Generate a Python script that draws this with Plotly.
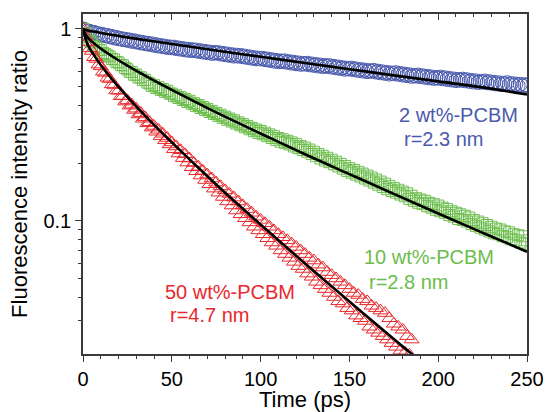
import plotly.graph_objects as go

# ---- data ----
STEP = 1.25
blue = [
    1.000, 0.990, 0.975, 0.972, 0.958, 0.960, 0.946, 0.944, 0.930, 0.935,
    0.922, 0.925, 0.910, 0.914, 0.898, 0.904, 0.889, 0.892, 0.880, 0.884,
    0.872, 0.876, 0.862, 0.868, 0.855, 0.858, 0.846, 0.850, 0.838, 0.842,
    0.830, 0.836, 0.822, 0.828, 0.815, 0.820, 0.808, 0.813, 0.800, 0.806,
    0.798, 0.804, 0.790, 0.796, 0.784, 0.790, 0.778, 0.784, 0.772, 0.780,
    0.772, 0.776, 0.764, 0.770, 0.758, 0.764, 0.752, 0.758, 0.746, 0.754,
    0.748, 0.752, 0.740, 0.746, 0.734, 0.740, 0.728, 0.734, 0.722, 0.730,
    0.722, 0.728, 0.716, 0.721, 0.710, 0.715, 0.704, 0.709, 0.698, 0.704,
    0.698, 0.703, 0.692, 0.697, 0.686, 0.691, 0.680, 0.686, 0.675, 0.681,
    0.676, 0.681, 0.670, 0.675, 0.664, 0.670, 0.659, 0.665, 0.654, 0.661,
    0.656, 0.662, 0.650, 0.657, 0.646, 0.652, 0.641, 0.648, 0.637, 0.644,
    0.638, 0.644, 0.632, 0.638, 0.627, 0.633, 0.622, 0.628, 0.617, 0.624,
    0.618, 0.625, 0.613, 0.619, 0.608, 0.614, 0.603, 0.610, 0.599, 0.606,
    0.601, 0.608, 0.596, 0.602, 0.591, 0.597, 0.587, 0.593, 0.582, 0.589,
    0.584, 0.591, 0.580, 0.586, 0.575, 0.581, 0.571, 0.577, 0.566, 0.573,
    0.568, 0.575, 0.564, 0.570, 0.560, 0.566, 0.556, 0.562, 0.552, 0.558,
    0.554, 0.561, 0.550, 0.556, 0.546, 0.552, 0.542, 0.548, 0.538, 0.545,
    0.540, 0.547, 0.537, 0.543, 0.533, 0.539, 0.529, 0.536, 0.526, 0.533,
    0.528, 0.535, 0.524, 0.531, 0.521, 0.527, 0.517, 0.524, 0.514, 0.521,
    0.516, 0.524, 0.512, 0.519, 0.509, 0.516, 0.506, 0.514, 0.504, 0.512,
    0.508,
]
green = [
    1.000, 0.948, 0.910, 0.866, 0.850, 0.814, 0.800, 0.778, 0.776, 0.750,
    0.742, 0.728, 0.718, 0.698, 0.694, 0.673, 0.668, 0.648, 0.646, 0.626,
    0.616, 0.598, 0.596, 0.577, 0.578, 0.558, 0.560, 0.541, 0.543, 0.525,
    0.520, 0.505, 0.509, 0.492, 0.497, 0.481, 0.486, 0.470, 0.476, 0.460,
    0.460, 0.446, 0.451, 0.436, 0.441, 0.426, 0.431, 0.416, 0.422, 0.407,
    0.410, 0.396, 0.401, 0.387, 0.392, 0.378, 0.383, 0.369, 0.374, 0.360,
    0.365, 0.352, 0.357, 0.344, 0.349, 0.336, 0.341, 0.329, 0.334, 0.321,
    0.326, 0.314, 0.319, 0.307, 0.312, 0.300, 0.305, 0.293, 0.299, 0.287,
    0.294, 0.282, 0.288, 0.276, 0.282, 0.270, 0.276, 0.264, 0.270, 0.258,
    0.266, 0.255, 0.261, 0.250, 0.256, 0.244, 0.251, 0.239, 0.245, 0.234,
    0.241, 0.229, 0.235, 0.223, 0.229, 0.217, 0.223, 0.211, 0.218, 0.206,
    0.213, 0.202, 0.208, 0.197, 0.203, 0.192, 0.198, 0.187, 0.193, 0.182,
    0.188, 0.178, 0.184, 0.174, 0.180, 0.170, 0.176, 0.166, 0.172, 0.162,
    0.168, 0.158, 0.164, 0.154, 0.160, 0.150, 0.156, 0.146, 0.152, 0.143,
    0.148, 0.140, 0.145, 0.137, 0.142, 0.134, 0.139, 0.130, 0.135, 0.127,
    0.131, 0.124, 0.129, 0.122, 0.127, 0.119, 0.124, 0.117, 0.122, 0.114,
    0.120, 0.112, 0.117, 0.110, 0.115, 0.107, 0.112, 0.105, 0.110, 0.102,
    0.108, 0.101, 0.106, 0.099, 0.104, 0.096, 0.101, 0.094, 0.099, 0.092,
    0.097, 0.090, 0.095, 0.088, 0.093, 0.086, 0.091, 0.085, 0.090, 0.083,
    0.088, 0.082, 0.087, 0.080, 0.085, 0.079, 0.084, 0.077, 0.083, 0.076,
    0.079,
]
red = [
    1.000, 0.912, 0.856, 0.792, 0.768, 0.712, 0.698, 0.652, 0.638, 0.598,
    0.590, 0.556, 0.548, 0.514, 0.510, 0.478, 0.476, 0.446, 0.447, 0.418,
    0.424, 0.398, 0.403, 0.378, 0.384, 0.358, 0.364, 0.340, 0.346, 0.322,
    0.326, 0.306, 0.312, 0.291, 0.298, 0.276, 0.284, 0.263, 0.270, 0.250,
    0.256, 0.236, 0.244, 0.224, 0.233, 0.212, 0.222, 0.201, 0.211, 0.190,
    0.200, 0.181, 0.191, 0.172, 0.182, 0.163, 0.174, 0.155, 0.166, 0.147,
    0.158, 0.140, 0.151, 0.133, 0.144, 0.126, 0.138, 0.120, 0.132, 0.113,
    0.126, 0.108, 0.120, 0.103, 0.115, 0.098, 0.110, 0.093, 0.105, 0.089,
    0.101, 0.085, 0.097, 0.081, 0.093, 0.077, 0.089, 0.074, 0.085, 0.070,
    0.082, 0.067, 0.079, 0.064, 0.076, 0.061, 0.073, 0.058, 0.070, 0.056,
    0.067, 0.053, 0.064, 0.051, 0.062, 0.048, 0.059, 0.046, 0.057, 0.044,
    0.054, 0.042, 0.052, 0.040, 0.050, 0.038, 0.048, 0.037, 0.046, 0.035,
    0.044, 0.034, 0.042, 0.032, 0.041, 0.031, 0.039, 0.030, 0.038, 0.028,
    0.036, 0.027, 0.035, 0.026, 0.034, 0.025, 0.033, 0.024, 0.031, 0.023,
    0.029, 0.022, 0.028, 0.021, 0.027, 0.0205, 0.025, 0.020, 0.024,
]
t_blue = [i * STEP for i in range(len(blue))]
t_green = [i * STEP for i in range(len(green))]
t_red = [i * STEP for i in range(len(red))]

fit_t = [0, 2.5, 5, 10, 17.5, 25, 37.5, 50, 75, 100, 125, 150, 175, 200, 225, 250]
fit_blue = [1.0, 0.983, 0.972, 0.953, 0.928, 0.904, 0.868, 0.834, 0.772, 0.716,
            0.664, 0.617, 0.573, 0.533, 0.496, 0.455]
fit_green = [1.0, 0.906, 0.86, 0.79, 0.710, 0.644, 0.554, 0.481, 0.367, 0.285,
             0.222, 0.175, 0.138, 0.109, 0.0866, 0.0689]
fit_red_t = [0, 2.5, 5, 10, 17.5, 25, 37.5, 50, 75, 100, 125, 150, 175, 190]
fit_red = [1.0, 0.835, 0.759, 0.649, 0.531, 0.443, 0.334, 0.256, 0.1545, 0.0955,
           0.0598, 0.0379, 0.0242, 0.0185]

labels = [
    ("2 wt%-PCBM", "r=2.3 nm"),
    ("10 wt%-PCBM", "r=2.8 nm"),
    ("50 wt%-PCBM", "r=4.7 nm"),
]
x_ticks = [0, 50, 100, 150, 200, 250]
y_ticks = [0.1, 1]
y_ticktext = ["0.1", "1"]
y_minor = [0.03, 0.04, 0.05, 0.06, 0.07, 0.08, 0.09,
           0.2, 0.3, 0.4, 0.5, 0.6, 0.7, 0.8, 0.9]

# ---- styling ----
BLUE = "#4a5aad"
GREEN = "#6cbd4c"
RED = "#e8282c"
FONT = "Liberation Sans, Arial, sans-serif"
AX = "#3a3a3a"

fig = go.Figure()
fig.add_trace(go.Scatter(x=t_blue, y=blue, mode="markers",
                         marker=dict(symbol="circle-open", size=14, color=BLUE,
                                     line=dict(width=1.0, color=BLUE)),
                         showlegend=False))
fig.add_trace(go.Scatter(x=t_green, y=green, mode="markers",
                         marker=dict(symbol="square-open", size=11, color=GREEN,
                                     line=dict(width=1.0, color=GREEN)),
                         showlegend=False))
fig.add_trace(go.Scatter(x=t_red, y=red, mode="markers",
                         marker=dict(symbol="triangle-up-open", size=13, color=RED,
                                     line=dict(width=1.0, color=RED)),
                         showlegend=False))
for tx, ty in [(fit_t, fit_blue), (fit_t, fit_green), (fit_red_t, fit_red)]:
    fig.add_trace(go.Scatter(x=tx, y=ty, mode="lines",
                             line=dict(color="black", width=2.6, shape="spline"),
                             showlegend=False))
# helper trace for the top axis (inward ticks)
fig.add_trace(go.Scatter(x=[None], y=[None], xaxis="x2", mode="markers",
                         showlegend=False, hoverinfo="skip"))

ann = []
pos = [
    (BLUE, 176.7, -0.451, 179.5, -0.574),
    (GREEN, 157.0, -1.189, 159.8, -1.320),
    (RED, 45.0, -1.372, 47.8, -1.492),
]
for (l1, l2), (c, x1, y1, x2, y2) in zip(labels, pos):
    ann.append(dict(x=x1, y=y1, xref="x", yref="y", text=l1, showarrow=False,
                    xanchor="left", yanchor="middle",
                    font=dict(family=FONT, size=20, color=c)))
    ann.append(dict(x=x2, y=y2, xref="x", yref="y", text=l2, showarrow=False,
                    xanchor="left", yanchor="middle",
                    font=dict(family=FONT, size=20, color=c)))

fig.update_layout(
    width=545, height=412,
    margin=dict(l=83, r=18, t=14, b=58),
    paper_bgcolor="white", plot_bgcolor="white",
    font=dict(family=FONT, size=20, color="black"),
    annotations=ann,
    xaxis=dict(range=[0, 250], tickvals=x_ticks, ticks="outside", ticklen=6,
               tickwidth=1.3, tickcolor=AX, showline=True, linecolor=AX,
               linewidth=1.5, mirror=True, showgrid=False, zeroline=False,
               automargin=False, tickfont=dict(size=20),
               minor=dict(dtick=10, tick0=0, ticks="outside", ticklen=3,
                          tickwidth=1.2, tickcolor=AX),
               title=dict(text="Time (ps)", standoff=5,
                          font=dict(family=FONT, size=22))),
    xaxis2=dict(range=[0, 250], overlaying="x", side="top", anchor="y",
                tickvals=x_ticks, ticks="inside", ticklen=6, tickwidth=1.3,
                tickcolor=AX, showticklabels=False, showline=False,
                showgrid=False, zeroline=False, automargin=False,
                minor=dict(dtick=10, tick0=0, ticks="inside", ticklen=3,
                           tickwidth=1.2, tickcolor=AX)),
    yaxis=dict(type="log", range=[-1.695, 0.078], tickvals=y_ticks,
               ticktext=y_ticktext, ticks="outside", ticklen=6, tickwidth=1.3,
               tickcolor=AX, showline=True, linecolor=AX, linewidth=1.5,
               mirror=True, showgrid=False, zeroline=False,
               automargin=False, tickfont=dict(size=20),
               minor=dict(tickvals=y_minor, ticks="outside", ticklen=3,
                          tickwidth=1.2, tickcolor=AX),
               title=dict(text="Fluorescence intensity ratio", standoff=10,
                          font=dict(family=FONT, size=22))),
)

fig.write_html("out.html",
               config={"displayModeBar": False},
               post_script="document.body.style.margin='0px';"
                           "document.body.style.padding='0px';")
